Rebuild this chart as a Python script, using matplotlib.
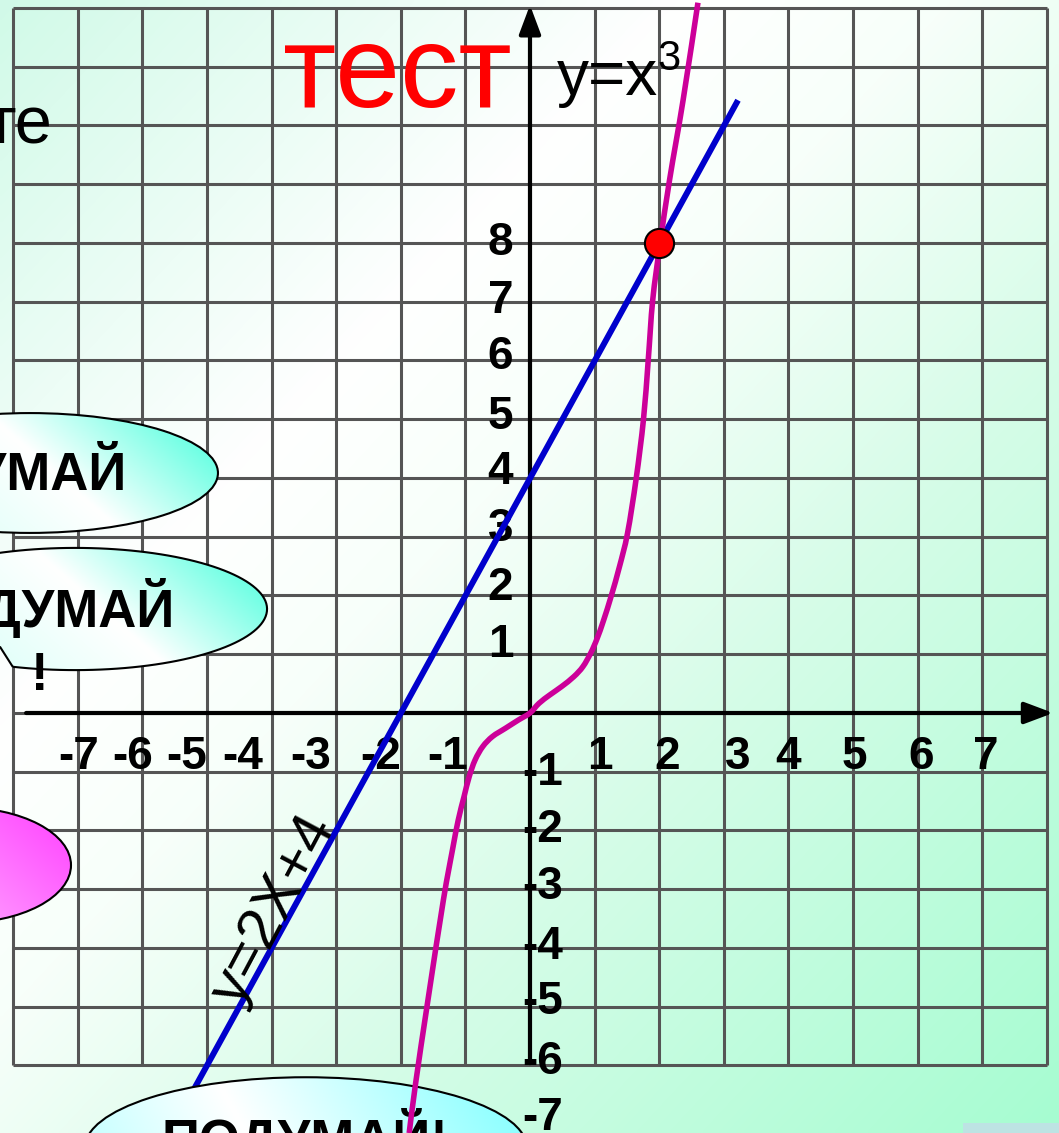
import numpy as np
import matplotlib
matplotlib.use("Agg")
import matplotlib.pyplot as plt
from matplotlib.patches import Ellipse, Polygon, Rectangle, PathPatch
from matplotlib.path import Path
from matplotlib.colors import LinearSegmentedColormap

plt.rcParams['font.family'] = ['Liberation Sans', 'DejaVu Sans']

# grid of the slide
grid_x = np.arange(-8, 9)
grid_y = np.arange(-6, 13)

# axis labels
x_ticks = [-7, -6, -5, -4, -3, -2, -1, 1, 2, 3, 4, 5, 6, 7]
y_ticks_pos = [8, 7, 6, 5, 4, 3, 2, 1]
y_ticks_neg = [-1, -2, -3, -4, -5, -6, -7]

# y = 2x + 4, end points
line_x = [-5.30, 3.22]
line_y = [-6.60, 10.43]

# hand drawn y = x^3 curve, traced
cube_x = [-1.87, -1.77, -1.58, -1.34, -1.20, -1.11, -1.02, -0.94, -0.85, -0.73,
          -0.58, -0.38, -0.18, 0.00, 0.14, 0.31, 0.49, 0.68, 0.82, 0.94,
          1.04, 1.14, 1.26, 1.385, 1.51, 1.645, 1.757, 1.83, 1.90, 2.01,
          2.16, 2.37, 2.60]
cube_y = [-7.15, -6.30, -4.89, -3.18, -2.33, -1.82, -1.42, -1.08, -0.80, -0.57,
          -0.40, -0.26, -0.12, 0.00, 0.165, 0.31, 0.45, 0.62, 0.79, 1.02,
          1.27, 1.58, 2.00, 2.49, 3.06, 4.00, 5.00, 6.00, 7.03, 7.96,
          9.07, 10.43, 12.09]

# intersection point
cross_x = [2]
cross_y = [8]

# the labels on the slide are not exactly on the grid
x_nudge = [0.02, -0.15, -0.31, -0.45, -0.39, -0.31, -0.27, 0.08, 0.13, 0.21, 0.00, 0.02, 0.06, 0.06]
y_nudge_pos = [-0.20, -0.20, -0.15, -0.17, -0.11, -0.08, -0.07, -0.04]
y_nudge_neg = [-0.22, -0.19, -0.17, -0.18, -0.13, -0.14, -0.09]

XLIM = (-8.204, 8.189)
YLIM = (-7.149, 12.136)


def gradient_fill(ax, patch, stops, angle, z):
    # draw the patch outline and fill it with a linear gradient
    ax.add_patch(patch)
    ext = patch.get_path().transformed(patch.get_patch_transform()).get_extents()
    u, v = np.meshgrid(np.linspace(0, 1, 200), np.linspace(0, 1, 200))
    a = np.deg2rad(angle)
    t = u * np.cos(a) + v * np.sin(a)
    t = (t - t.min()) / (t.max() - t.min())
    cmap = LinearSegmentedColormap.from_list('g', stops)
    im = ax.imshow(t, cmap=cmap, extent=(ext.x0, ext.x1, ext.y0, ext.y1), origin='lower',
                   aspect='auto', interpolation='bilinear', zorder=z)
    im.set_clip_path(patch)


def smooth_path(xs, ys):
    # catmull-rom through the traced points, as bezier segments
    p = np.column_stack([xs, ys])
    q = np.vstack([p[0], p, p[-1]])
    verts = [p[0]]
    codes = [Path.MOVETO]
    for i in range(len(p) - 1):
        p0, p1, p2, p3 = q[i], q[i + 1], q[i + 2], q[i + 3]
        verts += [p1 + (p2 - p0) / 6, p2 - (p3 - p1) / 6, p2]
        codes += [Path.CURVE4] * 3
    return Path(verts, codes)


fig = plt.figure(figsize=(10.59, 11.33), dpi=100)
ax = fig.add_axes([0, 0, 1, 1])
ax.axis('off')

# background: mint -> white -> green along the diagonal
u, v = np.meshgrid(np.linspace(0, 1, 300), np.linspace(0, 1, 300))
t_bg = (u + v) / 2
bg_cmap = LinearSegmentedColormap.from_list('bg', [
    (0.0, (0.82, 0.98, 0.91)),
    (0.32, (1.0, 1.0, 1.0)),
    (0.45, (0.97, 1.0, 0.98)),
    (0.65, (0.84, 0.99, 0.91)),
    (1.0, (0.65, 0.99, 0.82))])
ax.imshow(t_bg, cmap=bg_cmap, extent=(XLIM[0], XLIM[1], YLIM[0], YLIM[1]), origin='upper',
          aspect='auto', interpolation='bilinear', zorder=0)

# grid
ax.vlines(grid_x, grid_y[0], grid_y[-1], colors='#555555', lw=2.2, zorder=1)
ax.hlines(grid_y, grid_x[0], grid_x[-1], colors='#555555', lw=2.2, zorder=1)

# axes with arrows
arrow = dict(arrowstyle='-|>,head_length=0.8,head_width=0.3', color='black', lw=3,
             shrinkA=0, shrinkB=0, mutation_scale=22)
ax.annotate('', xy=(8.10, 0), xytext=(-7.80, 0), arrowprops=arrow, zorder=2)
ax.annotate('', xy=(0, 12.05), xytext=(0, -5.96), arrowprops=arrow, zorder=2)

# tick labels
lab = dict(fontsize=33, fontweight='bold', color='black', zorder=3)
for v, d in zip(x_ticks, x_nudge):
    ax.text(v + d, -0.945, str(v), ha='center', va='baseline', **lab)
for v, d in zip(y_ticks_pos, y_nudge_pos):
    ax.text(-0.26, v + d, str(v), ha='right', va='baseline', **lab)
for v, d in zip(y_ticks_neg, y_nudge_neg):
    ax.text(-0.12, v + d, str(v), ha='left', va='baseline', **lab)

# graphs
ax.plot(line_x, line_y, color='#0000cc', lw=4.3, solid_capstyle='butt', zorder=3)
ax.add_patch(PathPatch(smooth_path(cube_x, cube_y), fill=False, edgecolor='#cc0099',
                       lw=4, capstyle='butt', zorder=5))
ax.plot(cross_x, cross_y, 'o', ms=21, mfc='#ff0000', mec='black', mew=1.5, zorder=6)

# titles and formulas
ax.text(-3.82, 10.31, 'тест', fontsize=84, color='#ff0000', ha='left', va='baseline', zorder=4)
ax.text(0.42, 10.52, 'y=x', fontsize=46, color='black', ha='left', va='baseline', zorder=4)
ax.text(1.98, 10.94, '3', fontsize=30, color='black', ha='left', va='baseline', zorder=4)
ax.text(-7.39, 9.70, 'те', fontsize=48, color='black', ha='right', va='baseline', zorder=4)
ax.text(-3.96, -3.35, 'y=2X+4', fontsize=43, color='black', rotation=62,
        rotation_mode='anchor', ha='center', va='center', zorder=5)

# callouts
cyan = [(0.0, (0.80, 1.0, 0.96)), (0.55, (1.0, 1.0, 1.0)), (1.0, (0.25, 1.0, 0.86))]
e1 = Ellipse((-7.74, 4.085), 5.82, 2.04, facecolor='none', edgecolor='black', lw=1.5, zorder=4.1)
gradient_fill(ax, e1, cyan, 20, 4)

cx, cy, a, b = -7.04, 1.77, 2.97, 1.04
ang = np.deg2rad(np.linspace(-109, 180, 120))
pts = np.column_stack([cx + a * np.cos(ang), cy + b * np.sin(ang)])
pts = np.vstack([pts, [[-8.20, 1.12]]])
e2 = Polygon(pts, closed=True, facecolor='none', edgecolor='black', lw=1.5, zorder=4.1)
gradient_fill(ax, e2, cyan, 20, 4)

pink = [(0.0, (1.0, 0.80, 1.0)), (1.0, (1.0, 0.25, 1.0))]
e3 = Ellipse((-8.81, -2.59), 3.41, 1.97, facecolor='none', edgecolor='black', lw=1.5, zorder=4.1)
gradient_fill(ax, e3, pink, 30, 4)

light = [(0.0, (0.72, 1.0, 1.0)), (0.4, (1.0, 1.0, 1.0)), (1.0, (0.50, 1.0, 1.0))]
e4 = Ellipse((-3.47, -7.40), 6.84, 2.40, facecolor='none', edgecolor='black', lw=1.5, zorder=4.1)
gradient_fill(ax, e4, light, 10, 4)

cal = dict(fontsize=38, fontweight='bold', color='black', zorder=4.2, va='baseline')
ax.text(-6.24, 3.80, 'ПОДУМАЙ', ha='right', **cal)
ax.text(-7.59, 1.46, 'ПОДУМАЙ', ha='center', **cal)
ax.text(-7.59, 0.39, '!', ha='center', **cal)
ax.text(-3.48, -7.56, 'ПОДУМАЙ!', ha='center', **cal)

ax.add_patch(Rectangle((6.70, YLIM[0]), 2.0, 0.17, facecolor='#bde3e3', edgecolor='none', zorder=4))

ax.set_xlim(*XLIM)
ax.set_ylim(*YLIM)
fig.savefig('out.png', dpi=100)
